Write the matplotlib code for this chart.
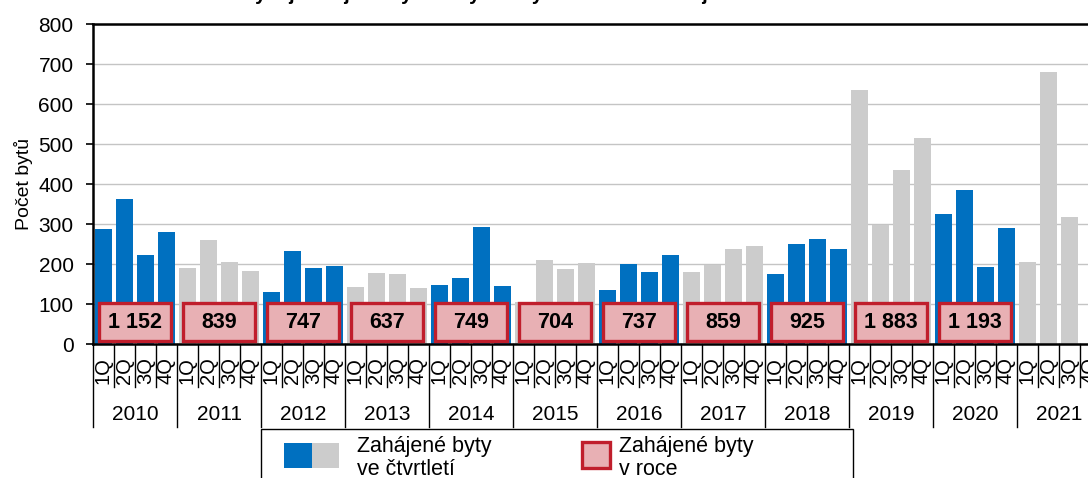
import numpy as np
import matplotlib
matplotlib.use("Agg")
import matplotlib.pyplot as plt
from matplotlib.patches import Rectangle
import matplotlib.transforms as mtransforms

plt.rcParams['font.family'] = ['Liberation Sans', 'DejaVu Sans']

# ---- data ----
years = ['2010', '2011', '2012', '2013', '2014', '2015',
         '2016', '2017', '2018', '2019', '2020', '2021']
quarters = ['1Q', '2Q', '3Q', '4Q']
q2010 = [287, 362, 222, 281]
q2011 = [191, 260, 205, 183]
q2012 = [131, 232, 189, 195]
q2013 = [143, 178, 175, 141]
q2014 = [148, 164, 292, 145]
q2015 = [105, 209, 188, 202]
q2016 = [136, 199, 180, 222]
q2017 = [180, 197, 238, 244]
q2018 = [175, 250, 263, 237]
q2019 = [635, 298, 436, 514]
q2020 = [325, 385, 193, 290]
q2021 = [205, 680, 317, np.nan]
annual_totals = [1152, 839, 747, 637, 749, 704, 737, 859, 925, 1883, 1193]
annual_labels = ['1 152', '839', '747', '637', '749', '704', '737', '859', '925', '1 883', '1 193']

quarterly = [q2010, q2011, q2012, q2013, q2014, q2015,
             q2016, q2017, q2018, q2019, q2020, q2021]

BLUE = '#0070C0'
GRAY = '#CCCCCC'
PINK = '#E8B0B4'
RED = '#C01E2C'

W, H = 1088, 478
fig = plt.figure(figsize=(W / 100, H / 100), dpi=100)
ax = fig.add_axes([93 / W, 1 - 344 / H, 1008 / W, 320 / H])

nq = len(quarters)
values = [v for yr in quarterly for v in yr]
xpos = np.arange(len(values))
colors = [(BLUE if i % 2 == 0 else GRAY) for i in range(len(years)) for _ in quarters]
ax.bar(xpos, values, width=0.84, color=colors, zorder=2)

# annual boxes
for i, (tot, lab) in enumerate(zip(annual_totals, annual_labels)):
    cx = i * nq + (nq - 1) / 2
    ax.add_patch(Rectangle((cx - 1.70, 8), 3.40, 94, facecolor=PINK,
                           edgecolor=RED, linewidth=2.4, zorder=3))
    ax.text(cx, 54, lab, ha='center', va='center', fontsize=15.5,
            fontweight='bold', color='black', zorder=4)

ax.set_xlim(-0.5, len(values) - 0.5)
ax.set_ylim(0, 800)
ax.set_yticks(np.arange(0, 801, 100))
ax.yaxis.grid(True, color='#C4C4C4', linewidth=1.0, zorder=0)
ax.set_axisbelow(True)
ax.tick_params(axis='y', labelsize=15, length=5, width=1.2, pad=9, direction='out')
ax.set_xticks([])
ax.set_ylabel('Počet bytů', fontsize=14, labelpad=4)

for s in ['left', 'top', 'bottom']:
    ax.spines[s].set_linewidth(1.8)
    ax.spines[s].set_color('black')
ax.spines['right'].set_visible(False)

# category axis
trans = mtransforms.blended_transform_factory(ax.transData, ax.transAxes)
for b in range(len(values) + 1):
    x = b - 0.5
    y1 = -83 / 320 if b % nq == 0 else -43 / 320
    ax.plot([x, x], [0, y1], color='black', linewidth=1.0, transform=trans,
            clip_on=False)
for j in range(len(values)):
    ax.text(j, -13 / 320, quarters[j % nq], rotation=90, ha='center', va='top',
            fontsize=14.5, transform=trans)
for i, yr in enumerate(years):
    ax.text(i * nq + (nq - 1) / 2, -70 / 320, yr, ha='center', va='center',
            fontsize=15, transform=trans)

# title (cropped at top in reference)
fig.text(478 / W, 1 + 0.5 / H, 'Vývoj zahájené bytové výstavby v Plzeňském kraji',
         ha='center', va='baseline', fontsize=14.2, fontweight='bold')

# legend (drawn in figure coordinates)
fig.patches.append(Rectangle((261 / W, -0.1), (853 - 261) / W, 0.1 + (1 - 429 / H),
                             transform=fig.transFigure, facecolor='white',
                             edgecolor='black', linewidth=1.0))
fig.patches.append(Rectangle((284 / W, 1 - 468 / H), 28 / W, 25 / H,
                             transform=fig.transFigure, facecolor=BLUE, edgecolor='none'))
fig.patches.append(Rectangle((312 / W, 1 - 468 / H), 27 / W, 25 / H,
                             transform=fig.transFigure, facecolor=GRAY, edgecolor='none'))
fig.patches.append(Rectangle((582 / W, 1 - 468 / H), 28 / W, 26 / H,
                             transform=fig.transFigure, facecolor=PINK,
                             edgecolor=RED, linewidth=2.4))
fig.text(357 / W, 1 - 452 / H, 'Zahájené byty', fontsize=15.5, va='baseline')
fig.text(357 / W, 1 - 475 / H, 've čtvrtletí', fontsize=15.5, va='baseline')
fig.text(619 / W, 1 - 452 / H, 'Zahájené byty', fontsize=15.5, va='baseline')
fig.text(619 / W, 1 - 475 / H, 'v roce', fontsize=15.5, va='baseline')

fig.savefig('out.png', dpi=100)
